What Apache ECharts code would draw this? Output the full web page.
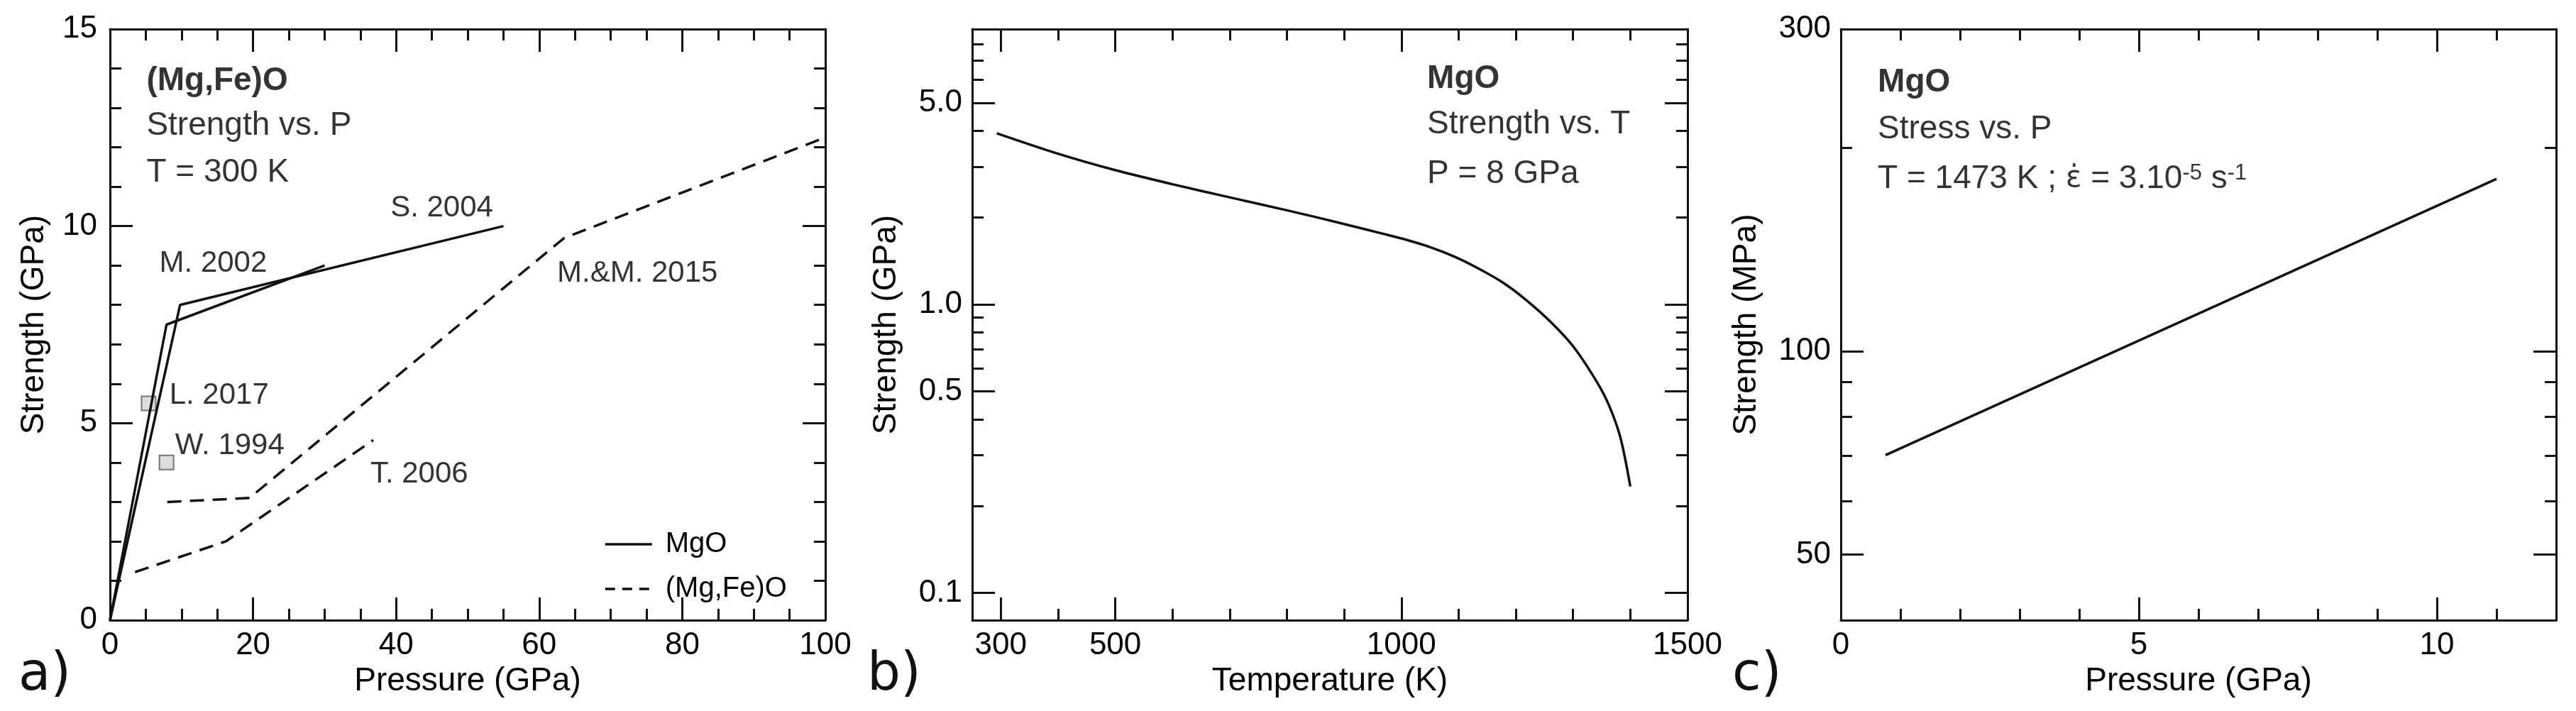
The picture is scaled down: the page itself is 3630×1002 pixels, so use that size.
<!DOCTYPE html>
<html>
<head>
<meta charset="utf-8">
<script src="https://cdn.jsdelivr.net/npm/echarts@6/dist/echarts.min.js"></script>
<style>
html,body{margin:0;padding:0;background:#fff;}
#main{width:3630px;height:1002px;}
</style>
</head>
<body>
<div id="main"></div>
<script>
// a) strength vs pressure, T = 300 K  [P (GPa), strength (GPa)]
var mgoM2002 = [[0, 0], [7.9, 7.5], [30, 9.0]];
var mgoS2004 = [[0, 0], [9.8, 8.0], [55, 10.0]];
var fpMM2015 = [[8, 3.0], [19.5, 3.1], [63.5, 9.7], [100, 12.25]];
var fpT2006 = [[3.5, 1.22], [16.2, 2.0], [36.8, 4.57]];
var mgoL2017 = [[5.4, 5.5]];
var mgoW1994 = [[7.9, 4.0]];

// b) strength vs temperature, P = 8 GPa
var tempK = [293, 400, 500, 600, 700, 800, 900, 970, 1012, 1053, 1094, 1136, 1177, 1218, 1260, 1301, 1342, 1363, 1383, 1400];
var strengthGPa = [3.92, 3.33, 2.92, 2.61, 2.35, 2.12, 1.90, 1.753, 1.667, 1.573, 1.461, 1.328, 1.192, 1.036, 0.873, 0.712, 0.537, 0.446, 0.344, 0.234];

// c) stress vs pressure, T = 1473 K
var pressC = [0.75, 11];
var stressMPa = [70.2, 180];

// tick values
var bXMajor = [300, 500, 1000, 1500];
var bXMinor = [400, 600, 700, 800, 900, 1100, 1200, 1300, 1400];
var bYMajor = [0.1, 0.5, 1, 5];
var bYMinor = [0.2, 0.3, 0.4, 0.6, 0.7, 0.8, 0.9, 2, 3, 4, 6, 7, 8, 9];
var cXMajor = [0, 5, 10];
var cXMinor = [1, 2, 3, 4, 6, 7, 8, 9, 11];
var cYMajor = [50, 100, 300];
var cYMinor = [60, 70, 80, 90, 200];

var FONT = 'Liberation Sans';
var INK = '#111';

var myChart = echarts.init(document.getElementById('main'));

var xAxes = [], yAxes = [];

// one axis on each side, ticks inside; optional second axis for minor ticks
function tickAxes(list, kind, grid, o) {
	var sides = kind === 'x' ? ['bottom', 'top'] : ['left', 'right'];
	var first = list.length;
	sides.forEach(function (side, i) {
		var ax = {
			type: o.type || 'value', gridIndex: grid, position: side,
			min: o.min, max: o.max, logBase: 10,
			splitLine: {show: false},
			axisLine: {show: true, onZero: false, lineStyle: {color: INK, width: 3}},
			axisTick: {show: true, inside: true, length: 32, lineStyle: {color: INK, width: 3}},
			axisLabel: {show: i === 0, margin: o.margin, fontFamily: FONT, fontSize: 44, color: '#000',
				formatter: o.fmt || function (v) { return String(v); }}
		};
		if (o.interval) {
			ax.interval = o.interval;
			ax.minorTick = {show: true, splitNumber: o.split, length: 16, lineStyle: {color: INK, width: 3}};
		} else {
			ax.axisTick.customValues = o.major;
			ax.axisLabel.customValues = o.major;
		}
		if (i === 0 && o.name) {
			ax.name = o.name;
			ax.nameLocation = 'middle';
			ax.nameGap = o.nameGap;
			ax.nameTextStyle = {fontFamily: FONT, fontSize: 46, color: '#000'};
		}
		list.push(ax);
		if (o.minor) {
			list.push({
				type: o.type || 'value', gridIndex: grid, position: side,
				min: o.min, max: o.max, logBase: 10,
				splitLine: {show: false},
				axisLine: {show: false, onZero: false},
				axisTick: {show: true, inside: true, length: 16, customValues: o.minor, lineStyle: {color: INK, width: 3}},
				axisLabel: {show: false}
			});
		}
	});
	return first;
}

var ax0 = tickAxes(xAxes, 'x', 0, {min: 0, max: 100, interval: 20, split: 4, margin: 14, name: 'Pressure (GPa)', nameGap: 62});
var ay0 = tickAxes(yAxes, 'y', 0, {min: 0, max: 15, interval: 5, split: 5, margin: 18, name: 'Strength (GPa)', nameGap: 84});
var ax1 = tickAxes(xAxes, 'x', 1, {min: 250, max: 1500, major: bXMajor, minor: bXMinor, margin: 14, name: 'Temperature (K)', nameGap: 62});
var ay1 = tickAxes(yAxes, 'y', 1, {type: 'log', min: 0.0805, max: 9.0, major: bYMajor, minor: bYMinor, margin: 14,
	fmt: function (v) { return v.toFixed(1); }, name: 'Strength (GPa)', nameGap: 98});
var ax2 = tickAxes(xAxes, 'x', 2, {min: 0, max: 12, major: cXMajor, minor: cXMinor, margin: 14, name: 'Pressure (GPa)', nameGap: 62});
var ay2 = tickAxes(yAxes, 'y', 2, {type: 'log', min: 40, max: 300, major: cYMajor, minor: cYMinor, margin: 14, name: 'Strength (MPa)', nameGap: 110});

// text notes placed in data coordinates
var notesA = [
	{t: '(Mg,Fe)O', at: [5.1, 13.68], size: 46, bold: true},
	{t: 'Strength vs. P', at: [5.1, 12.55], size: 46},
	{t: 'T = 300 K', at: [5.1, 11.35], size: 46},
	{t: 'S. 2004', at: [39.2, 10.45], size: 42},
	{t: 'M. 2002', at: [6.9, 9.05], size: 42},
	{t: 'M.&M. 2015', at: [62.5, 8.8], size: 42},
	{t: 'L. 2017', at: [8.3, 5.7], size: 42},
	{t: 'W. 1994', at: [9.1, 4.43], size: 42},
	{t: 'T. 2006', at: [36.4, 3.7], size: 42}
];
var notesB = [
	{t: 'MgO', at: [1045, 6.05], size: 46, bold: true},
	{t: 'Strength vs. T', at: [1045, 4.21], size: 46},
	{t: 'P = 8 GPa', at: [1045, 2.83], size: 46}
];
var notesC = [
	{t: 'MgO', at: [0.62, 250], size: 46, bold: true},
	{t: 'Stress vs. P', at: [0.62, 213], size: 46},
	{t: 'T = 1473 K ; {e|\u03b5\u0307} = 3.10{s|-5} s{s|-1}', at: [0.62, 180], size: 46}
];

function noteSeries(xi, yi, notes) {
	return {
		type: 'scatter', xAxisIndex: xi, yAxisIndex: yi, symbolSize: 1,
		itemStyle: {color: 'rgba(0,0,0,0)'}, silent: true,
		data: notes.map(function (n) {
			return {
				value: n.at,
				label: {
					show: true, position: 'inside', align: 'left', verticalAlign: 'middle',
					formatter: n.t, fontFamily: FONT, fontSize: n.size, color: '#000',
					fontWeight: n.bold ? 'bold' : 'normal',
					rich: {
						s: {fontFamily: FONT, fontSize: 31, color: '#000', verticalAlign: 'top'},
						e: {fontFamily: 'DejaVu Sans', fontSize: 42, color: '#000'}
					}
				}
			};
		})
	};
}

var solid = {color: INK, width: 3.5};
var dashed = {color: INK, width: 3.5, type: [20, 12]};
var square = {color: '#d3d3d3', borderColor: '#555', borderWidth: 2};

function panelLabel(txt, x) {
	return {type: 'text', left: x, top: 916,
		style: {text: txt, fontFamily: 'DejaVu Sans', fontSize: 74, fill: INK}};
}

myChart.setOption({
	animation: false,
	backgroundColor: '#fff',
	grid: [
		{left: 155, top: 41, width: 1008, height: 833, containLabel: false, outerBoundsMode: 'none'},
		{left: 1370, top: 41, width: 1008, height: 833, containLabel: false, outerBoundsMode: 'none'},
		{left: 2594, top: 41, width: 1008, height: 833, containLabel: false, outerBoundsMode: 'none'}
	],
	xAxis: xAxes,
	yAxis: yAxes,
	legend: {
		data: [
			{name: 'MgO', lineStyle: {color: INK, width: 3.5, type: 'solid'}},
			{name: '(Mg,Fe)O', lineStyle: {color: INK, width: 3.5, type: [14, 10]}}
		],
		orient: 'vertical', left: 846, top: 742,
		itemWidth: 66, itemHeight: 30, itemGap: 23,
		itemStyle: {opacity: 0},
		textStyle: {fontFamily: FONT, fontSize: 40, color: '#000', lineHeight: 30, padding: [0, 0, 0, 14]},
		selectedMode: false
	},
	graphic: [panelLabel('a)', 26), panelLabel('b)', 1222), panelLabel('c)', 2441)],
	series: [
		{type: 'line', name: 'MgO', xAxisIndex: ax0, yAxisIndex: ay0, data: mgoM2002, symbol: 'none', lineStyle: solid},
		{type: 'line', name: 'MgO', xAxisIndex: ax0, yAxisIndex: ay0, data: mgoS2004, symbol: 'none', lineStyle: solid},
		{type: 'line', name: '(Mg,Fe)O', xAxisIndex: ax0, yAxisIndex: ay0, data: fpMM2015, symbol: 'none', lineStyle: dashed},
		{type: 'line', name: '(Mg,Fe)O', xAxisIndex: ax0, yAxisIndex: ay0, data: fpT2006, symbol: 'none', lineStyle: dashed},
		{type: 'scatter', name: 'L. 2017', xAxisIndex: ax0, yAxisIndex: ay0, data: mgoL2017, symbol: 'rect', symbolSize: 20, itemStyle: square},
		{type: 'scatter', name: 'W. 1994', xAxisIndex: ax0, yAxisIndex: ay0, data: mgoW1994, symbol: 'rect', symbolSize: 20, itemStyle: square},
		noteSeries(ax0, ay0, notesA),
		{type: 'line', name: 'MgO b', xAxisIndex: ax1, yAxisIndex: ay1, symbol: 'none', smooth: 0.3, lineStyle: solid,
			data: tempK.map(function (t, i) { return [t, strengthGPa[i]]; })},
		noteSeries(ax1, ay1, notesB),
		{type: 'line', name: 'MgO c', xAxisIndex: ax2, yAxisIndex: ay2, symbol: 'none', lineStyle: solid,
			data: pressC.map(function (p, i) { return [p, stressMPa[i]]; })},
		noteSeries(ax2, ay2, notesC)
	]
});
</script>
</body>
</html>
